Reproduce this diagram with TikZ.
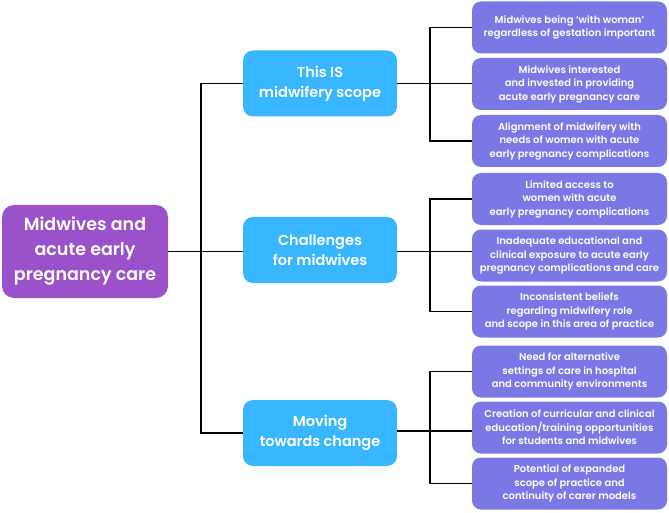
\documentclass[tikz,border=0pt]{standalone}
\usepackage{fontspec}
\setmainfont{Poppins}[UprightFont=* SemiBold]
\definecolor{rootpurple}{HTML}{9B51C9}
\definecolor{topicblue}{HTML}{38B6FF}
\definecolor{leafblue}{HTML}{7B78E5}
\tikzset{
  box/.style={text=white, align=center, inner sep=0pt},
  rootbox/.style={box, fill=rootpurple, rounded corners=12pt,
    minimum width=166pt, minimum height=93pt,
    font=\fontsize{17.5}{25}\selectfont},
  topicbox/.style={box, fill=topicblue, rounded corners=10pt,
    minimum width=154pt, minimum height=66pt,
    font=\fontsize{14.5}{20.5}\selectfont},
  leafbox/.style={box, fill=leafblue, rounded corners=9pt,
    minimum width=195pt, minimum height=52pt,
    font=\fontsize{10}{13.5}\selectfont},
  link/.style={draw=black, line width=1.1pt}
}
\begin{document}
\begin{tikzpicture}[x=1pt,y=-1pt]
\useasboundingbox (0,0) rectangle (669,513);

% main topic and the three themes
\node[rootbox] (root) at (85,251.5) {Midwives and\\acute early\\pregnancy care};
\node[topicbox] (scope) at (320,83.5) {This IS\\midwifery scope};
\node[topicbox] (challenges) at (320,250) {Challenges\\for midwives};
\node[topicbox] (change) at (320,433) {Moving\\towards change};

% subthemes
\node[leafbox] (scopeA) at (569.5,27.5) {Midwives being `with woman'\\regardless of gestation important};
\node[leafbox] (scopeB) at (569.5,84) {Midwives interested\\and invested in providing\\acute early pregnancy care};
\node[leafbox] (scopeC) at (569.5,141) {Alignment of midwifery with\\needs of women with acute\\early pregnancy complications};
\node[leafbox] (challengesA) at (569.5,199) {Limited access to\\women with acute\\early pregnancy complications};
\node[leafbox] (challengesB) at (569.5,255.5) {Inadequate educational and\\clinical exposure to acute early\\pregnancy complications and care};
\node[leafbox] (challengesC) at (569.5,311.5) {Inconsistent beliefs\\regarding midwifery role\\and scope in this area of practice};
\node[leafbox] (changeA) at (569.5,371.5) {Need for alternative\\settings of care in hospital\\and community environments};
\node[leafbox] (changeB) at (569.5,427.5) {Creation of curricular and clinical\\education/training opportunities\\for students and midwives};
\node[leafbox] (changeC) at (569.5,483.5) {Potential of expanded\\scope of practice and\\continuity of carer models};

% trunk
\coordinate (trunk) at (201,251.5);
\draw[link] (root.east) -- (trunk) -- (trunk -| challenges.west);
\draw[link] (scope.west) -| (trunk) |- (change.west);

% forks to the subthemes
\coordinate (scopefork) at (430,83.5);
\coordinate (challengesfork) at (430,251.5);
\coordinate (changefork) at (430,431);
\draw[link] (scope.east) -- (scopefork) -- (scopefork -| scopeB.west);
\draw[link] (scopeA.west) -| (scopefork) |- (scopeC.west);
\draw[link] (challenges.east |- challengesfork) -- (challengesfork) -- (challengesfork -| challengesB.west);
\draw[link] (challengesA.west) -| (challengesfork) |- (challengesC.west);
\draw[link] (change.east |- changefork) -- (changefork) -- (changefork -| changeB.west);
\draw[link] (changeA.west) -| (changefork) |- (changeC.west);
\end{tikzpicture}
\end{document}
